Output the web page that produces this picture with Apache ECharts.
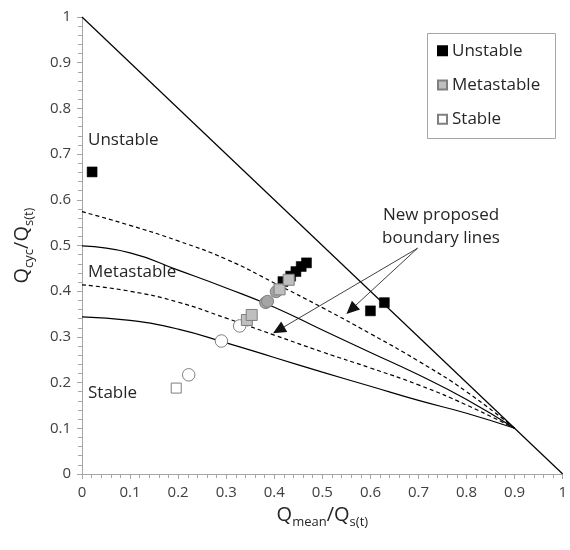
<!DOCTYPE html>
<html><head><meta charset="utf-8">
<script src="https://cdn.jsdelivr.net/npm/echarts@6/dist/echarts.min.js"></script>
<style>html,body{margin:0;padding:0;background:#fff}#c{width:570px;height:550px}</style>
</head><body><div id="c"></div>
<script>
// ---- data ----
const curveX = [0, 0.1, 0.2, 0.3, 0.4, 0.5, 0.6, 0.7, 0.8, 0.9];
const upperDashedY = [0.574, 0.544, 0.510, 0.470, 0.418, 0.364, 0.307, 0.247, 0.180, 0.100];
const upperSolidY  = [0.499, 0.484, 0.446, 0.407, 0.365, 0.315, 0.266, 0.217, 0.163, 0.100];
const lowerDashedY = [0.414, 0.400, 0.376, 0.341, 0.304, 0.267, 0.232, 0.195, 0.151, 0.100];
const lowerSolidY  = [0.344, 0.336, 0.317, 0.287, 0.255, 0.223, 0.192, 0.161, 0.133, 0.100];
const diagX = [0, 1];
const diagY = [1, 0];

const unstableX = [0.021, 0.418, 0.434, 0.445, 0.456, 0.467, 0.600, 0.629];
const unstableY = [0.661, 0.421, 0.433, 0.443, 0.454, 0.462, 0.357, 0.375];

const metaCircleX = [0.382, 0.386, 0.404];
const metaCircleY = [0.375, 0.378, 0.399];
const metaSquareX = [0.343, 0.353, 0.411, 0.430];
const metaSquareY = [0.337, 0.348, 0.404, 0.425];

const stableCircleX = [0.222, 0.290, 0.328];
const stableCircleY = [0.217, 0.291, 0.324];
const stableSquareX = [0.196];
const stableSquareY = [0.188];

const seriesNames = ['Unstable', 'Metastable', 'Stable'];
const axisMin = 0, axisMax = 1, axisStep = 0.1;

// annotation arrows (data coordinates)
const arrowStart = [0.698, 0.494];
const arrowEnds = [[0.409, 0.315], [0.560, 0.360]];

// ---- helpers ----
const zip = (xs, ys) => xs.map((x, i) => [x, ys[i]]);
const FONT = "'Open Sans', 'Noto Sans', sans-serif";
const TXT = '#262626';
const AX = '#a6a6a6';

function curve(ys, dashed) {
  return {
    type: 'line', data: zip(curveX, ys), smooth: true, symbol: 'none', silent: true,
    lineStyle: { color: '#000', width: 1.2, type: dashed ? [4, 3] : 'solid' }, z: 2
  };
}

const axisCommon = {
  type: 'value', min: axisMin, max: axisMax, interval: axisStep,
  axisLine: { show: true, lineStyle: { color: AX, width: 1 } },
  axisTick: { show: true, inside: false, length: 5, lineStyle: { color: AX } },
  minorTick: { show: true, splitNumber: 5, length: 4, lineStyle: { color: AX } },
  splitLine: { show: false },
  axisLabel: { color: '#404040', fontSize: 15, fontFamily: FONT, margin: 11 },
  nameLocation: 'middle',
  nameTextStyle: {
    color: TXT, fontFamily: FONT,
    rich: {
      m: { fontSize: 20, lineHeight: 28, fontFamily: FONT, color: TXT },
      s: { fontSize: 13, lineHeight: 14, verticalAlign: 'bottom', fontFamily: FONT, color: TXT }
    }
  }
};

const option = {
  animation: false,
  backgroundColor: '#fff',
  grid: { left: 82, right: 6, top: 17, bottom: 76, containLabel: false },
  xAxis: Object.assign({}, axisCommon, {
    name: '{m|Q}{s|mean}{m|/Q}{s|s(t)}', nameGap: 22
  }),
  yAxis: Object.assign({}, axisCommon, {
    name: '{m|Q}{s|cyc}{m|/Q}{s|s(t)}', nameGap: 46, nameRotate: 90
  }),
  legend: {
    data: seriesNames, orient: 'vertical', left: 437, top: 40.7, padding: 0,
    itemWidth: 9, itemHeight: 9, itemGap: 14.3,
    textStyle: { fontSize: 17, lineHeight: 20, color: TXT, fontFamily: FONT }
  },
  graphic: [
    { type: 'rect', shape: { x: 427.5, y: 33.5, width: 128, height: 105 },
      style: { fill: 'none', stroke: AX, lineWidth: 1 }, z: 0, silent: true },
    { type: 'text', x: 88, y: 140, style: { text: 'Unstable', font: "17px " + FONT, fill: TXT, verticalAlign: 'middle', textVerticalAlign: 'middle' } },
    { type: 'text', x: 88, y: 272, style: { text: 'Metastable', font: "17px " + FONT, fill: TXT, verticalAlign: 'middle', textVerticalAlign: 'middle' } },
    { type: 'text', x: 88, y: 393, style: { text: 'Stable', font: "17px " + FONT, fill: TXT, verticalAlign: 'middle', textVerticalAlign: 'middle' } },
    { type: 'text', x: 441, y: 227, style: { text: 'New proposed\nboundary lines', font: "17px " + FONT, lineHeight: 23, fill: TXT,
      align: 'center', textAlign: 'center', verticalAlign: 'middle', textVerticalAlign: 'middle' } }
  ],
  series: [
    { type: 'line', data: zip(diagX, diagY), symbol: 'none', silent: true,
      lineStyle: { color: '#000', width: 1.2 }, z: 2 },
    curve(upperDashedY, true),
    curve(upperSolidY, false),
    curve(lowerDashedY, true),
    curve(lowerSolidY, false),
    { type: 'line', data: [], symbol: 'none', silent: true, z: 6,
      markLine: {
        silent: true, symbol: ['none', 'triangle'], symbolSize: [12, 13],
        label: { show: false },
        itemStyle: { color: '#000' },
        lineStyle: { color: '#111', width: 0.8, type: 'solid', opacity: 1 },
        data: arrowEnds.map(e => [{ coord: arrowStart }, { coord: e }])
      } },
    { name: 'Stable', type: 'scatter', z: 3, symbol: 'rect', symbolSize: 10,
      itemStyle: { color: '#fff', borderColor: '#7f7f7f', borderWidth: 1, opacity: 1 },
      data: zip(stableSquareX, stableSquareY).concat(
        zip(stableCircleX, stableCircleY).map(v => ({ value: v, symbol: 'circle', symbolSize: 12.5 }))) },
    { name: 'Unstable', type: 'scatter', z: 4, symbol: 'rect', symbolSize: 10,
      itemStyle: { color: '#000', borderColor: '#000', borderWidth: 0.5, opacity: 1 },
      data: zip(unstableX, unstableY) },
    { name: 'Metastable', type: 'scatter', z: 5, symbol: 'rect', symbolSize: 11,
      itemStyle: { color: '#bfbfbf', borderColor: '#7f7f7f', borderWidth: 1, opacity: 1 },
      data: zip(metaCircleX, metaCircleY).map(v => ({ value: v, symbol: 'circle', symbolSize: 12,
        itemStyle: { color: '#a5a5a5', opacity: 1 } })).concat(zip(metaSquareX, metaSquareY)) }
  ]
};
const chart = echarts.init(document.getElementById('c'), null, { renderer: 'canvas' });
chart.setOption(option);
</script>
</body></html>
